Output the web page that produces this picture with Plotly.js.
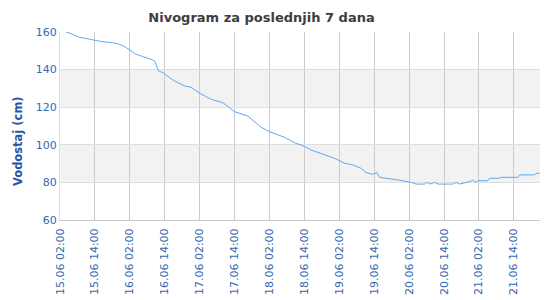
<!DOCTYPE html>
<html>
<head>
<meta charset="utf-8">
<script src="https://cdn.plot.ly/plotly-3.0.1.min.js"></script>
<style>html,body{margin:0;padding:0;background:#fff}#chart{width:550px;height:300px}</style>
</head>
<body>
<div id="chart"></div>
<script>
// Measurement times (2024 assumed) and water level (cm)
const times = [
  "2024-06-15 04:00","2024-06-15 06:00","2024-06-15 08:30","2024-06-15 11:30","2024-06-15 13:45",
  "2024-06-15 16:00","2024-06-15 20:00","2024-06-15 22:20","2024-06-16 00:30","2024-06-16 02:20",
  "2024-06-16 04:00","2024-06-16 06:20","2024-06-16 09:10","2024-06-16 10:35","2024-06-16 11:10",
  "2024-06-16 11:50","2024-06-16 13:20","2024-06-16 16:45","2024-06-16 20:50","2024-06-16 23:05",
  "2024-06-17 02:00","2024-06-17 06:00","2024-06-17 10:00","2024-06-17 14:00","2024-06-17 18:35",
  "2024-06-17 23:10","2024-06-18 02:00","2024-06-18 04:20","2024-06-18 07:10","2024-06-18 10:35",
  "2024-06-18 13:30","2024-06-18 16:20","2024-06-18 20:55","2024-06-19 00:25","2024-06-19 03:50",
  "2024-06-19 06:40","2024-06-19 09:30","2024-06-19 11:15","2024-06-19 13:30","2024-06-19 14:55",
  "2024-06-19 15:50","2024-06-19 20:25","2024-06-19 23:50","2024-06-20 02:40","2024-06-20 04:25",
  "2024-06-20 07:15","2024-06-20 08:05","2024-06-20 09:15","2024-06-20 10:45","2024-06-20 11:55",
  "2024-06-20 17:00","2024-06-20 18:10","2024-06-20 19:20","2024-06-20 22:50","2024-06-20 23:55",
  "2024-06-21 00:50","2024-06-21 01:35","2024-06-21 05:05","2024-06-21 05:40","2024-06-21 09:05",
  "2024-06-21 09:40","2024-06-21 15:25","2024-06-21 16:00","2024-06-21 21:05","2024-06-21 21:40",
  "2024-06-21 22:50"
];
const levels = [
  160, 159, 157.3, 156.3, 155.6,
  155, 154.3, 153.6, 152, 150.3,
  148.3, 147, 145.6, 144.4, 142.3,
  139.3, 138.4, 134.5, 131.3, 130.6,
  127.4, 124.2, 122.4, 117.6, 115.3,
  109.3, 107, 105.7, 104, 101.1,
  99.5, 97.2, 94.6, 92.8, 90.2,
  89.3, 87.5, 85.2, 84.3, 85.2,
  82.7, 81.8, 80.9, 80, 79.1,
  79.1, 80, 79.1, 80, 79.1,
  79.1, 80, 79.1, 80.4, 81.3,
  80, 80.9, 80.9, 82.2, 82.2,
  82.7, 82.7, 84, 84, 84.8,
  84.8
];
const tickTimes = [
  "2024-06-15 02:00","2024-06-15 14:00","2024-06-16 02:00","2024-06-16 14:00","2024-06-17 02:00",
  "2024-06-17 14:00","2024-06-18 02:00","2024-06-18 14:00","2024-06-19 02:00","2024-06-19 14:00",
  "2024-06-20 02:00","2024-06-20 14:00","2024-06-21 02:00","2024-06-21 14:00"
];
const tickLabels = [
  "15.06 02:00","15.06 14:00","16.06 02:00","16.06 14:00","17.06 02:00",
  "17.06 14:00","18.06 02:00","18.06 14:00","19.06 02:00","19.06 14:00",
  "20.06 02:00","20.06 14:00","21.06 02:00","21.06 14:00"
];
const xRange = ["2024-06-15 02:00","2024-06-21 23:00"];
const yRange = [60, 160];
const bands = [[80, 100], [120, 140]];

const blue = "#3568b0";
const trace = {
  x: times, y: levels, type: "scatter", mode: "lines",
  line: {color: "#5ea8f2", width: 1},
  hoverinfo: "x+y", showlegend: false
};
const shapes = bands.map(b => ({
  type: "rect", xref: "paper", yref: "y", x0: 0, x1: 1, y0: b[0], y1: b[1],
  fillcolor: "#f2f2f2", line: {width: 0}, layer: "below"
}));
const layout = {
  width: 550, height: 300,
  margin: {l: 60, r: 10, t: 32, b: 80},
  paper_bgcolor: "#fff", plot_bgcolor: "rgba(0,0,0,0)",
  font: {family: "DejaVu Sans", size: 11, color: blue},
  title: {text: "Nivogram za poslednjih 7 dana", x: 0.4755, xanchor: "center", y: 0.943, yanchor: "middle",
          font: {family: "DejaVu Sans", size: 13, color: "#3d3d3d", weight: "bold"}},
  xaxis: {
    type: "date", range: xRange, tickvals: tickTimes, ticktext: tickLabels,
    tickangle: -90, tickfont: {size: 11, color: blue},
    showgrid: true, gridcolor: "#cccccc", gridwidth: 1,
    showline: true, linecolor: "#c8c8c8", ticks: "", zeroline: false,
    ticklabelstandoff: 3
  },
  yaxis: {
    range: yRange, dtick: 20, tick0: 60,
    tickfont: {size: 11, color: blue},
    showgrid: true, gridcolor: "#dedede", gridwidth: 1,
    showline: true, linecolor: "#dedede", ticks: "", zeroline: false
  },
  annotations: [{
    text: "Vodostaj (cm)", textangle: -90, xref: "paper", yref: "paper",
    x: -0.0875, y: 0.42, xanchor: "center", yanchor: "middle", showarrow: false,
    font: {family: "DejaVu Sans", size: 11.5, color: "#1f57a8", weight: "bold"}
  }],
  shapes: shapes
};
Plotly.newPlot("chart", [trace], layout, {displayModeBar: false, staticPlot: true});
</script>
</body>
</html>
